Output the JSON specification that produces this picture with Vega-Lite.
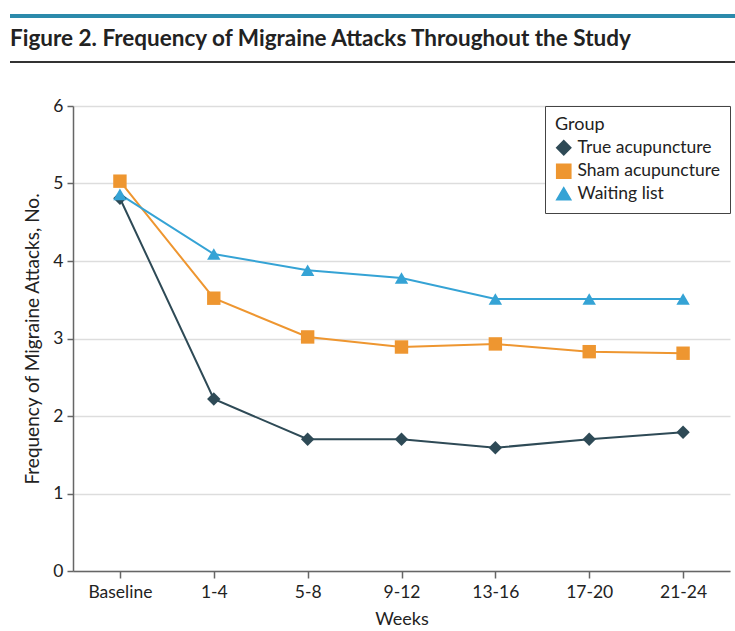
{
  "$schema": "https://vega.github.io/schema/vega-lite/v6.json",
  "background": "white",
  "padding": {"left": 10, "top": 14, "right": 0, "bottom": 0},
  "columns": 1,
  "spacing": 34,
  "resolve": {"scale": {"color": "independent", "shape": "independent"}},
  "config": {
    "font": "Lato",
    "view": {"stroke": null},
    "axis": {
      "domainColor": "#666666",
      "tickColor": "#666666",
      "domainWidth": 1.5,
      "tickWidth": 1.5,
      "labelColor": "#222222",
      "titleColor": "#222222",
      "labelFontSize": 17.5,
      "titleFontSize": 18,
      "titleFontWeight": "normal",
      "gridColor": "#dddddd",
      "gridWidth": 1.5
    },
    "legend": {
      "titleFontSize": 18,
      "labelFontSize": 17.5,
      "titleFontWeight": "normal",
      "titleColor": "#222222",
      "labelColor": "#222222"
    }
  },
  "datasets": {
    "freq": [
      {"Week": "Baseline", "Group": "True acupuncture", "Freq": 4.81},
      {"Week": "1-4", "Group": "True acupuncture", "Freq": 2.22},
      {"Week": "5-8", "Group": "True acupuncture", "Freq": 1.70},
      {"Week": "9-12", "Group": "True acupuncture", "Freq": 1.70},
      {"Week": "13-16", "Group": "True acupuncture", "Freq": 1.59},
      {"Week": "17-20", "Group": "True acupuncture", "Freq": 1.70},
      {"Week": "21-24", "Group": "True acupuncture", "Freq": 1.79},
      {"Week": "Baseline", "Group": "Sham acupuncture", "Freq": 5.03},
      {"Week": "1-4", "Group": "Sham acupuncture", "Freq": 3.52},
      {"Week": "5-8", "Group": "Sham acupuncture", "Freq": 3.02},
      {"Week": "9-12", "Group": "Sham acupuncture", "Freq": 2.89},
      {"Week": "13-16", "Group": "Sham acupuncture", "Freq": 2.93},
      {"Week": "17-20", "Group": "Sham acupuncture", "Freq": 2.83},
      {"Week": "21-24", "Group": "Sham acupuncture", "Freq": 2.81},
      {"Week": "Baseline", "Group": "Waiting list", "Freq": 4.86},
      {"Week": "1-4", "Group": "Waiting list", "Freq": 4.09},
      {"Week": "5-8", "Group": "Waiting list", "Freq": 3.88},
      {"Week": "9-12", "Group": "Waiting list", "Freq": 3.78},
      {"Week": "13-16", "Group": "Waiting list", "Freq": 3.51},
      {"Week": "17-20", "Group": "Waiting list", "Freq": 3.51},
      {"Week": "21-24", "Group": "Waiting list", "Freq": 3.51}
    ]
  },
  "concat": [
    {
      "columns": 1,
      "spacing": 9,
      "concat": [
        {
          "width": 725,
          "height": 4,
          "view": {"fill": "#2b8aab", "stroke": null},
          "data": {"values": []},
          "mark": "rule",
          "encoding": {}
        },
        {
          "width": 725,
          "height": 2,
          "view": {"fill": "#333333", "stroke": null},
          "title": {
            "text": "Figure 2. Frequency of Migraine Attacks Throughout the Study",
            "anchor": "start",
            "fontSize": 22.5,
            "fontWeight": "bold",
            "color": "#222222",
            "offset": 11
          },
          "data": {"values": []},
          "mark": "rule",
          "encoding": {}
        }
      ]
    },
    {
      "spacing": 12,
      "resolve": {"scale": {"color": "independent", "shape": "independent"}},
      "hconcat": [
        {
          "width": 1,
          "height": 465,
          "data": {"values": []},
          "mark": "rule",
          "encoding": {}
        },
        {
          "width": 657,
          "height": 465,
          "data": {"name": "freq"},
          "encoding": {
            "x": {
              "field": "Week",
              "type": "ordinal",
              "sort": ["Baseline", "1-4", "5-8", "9-12", "13-16", "17-20", "21-24"],
              "scale": {"type": "point", "padding": 0.5},
              "axis": {"title": "Weeks", "labelAngle": 0, "tickSize": 7, "labelPadding": 5, "titlePadding": 10, "grid": false}
            },
            "y": {
              "field": "Freq",
              "type": "quantitative",
              "scale": {"domain": [0, 6], "nice": false},
              "axis": {"title": "Frequency of Migraine Attacks, No.", "values": [0, 1, 2, 3, 4, 5, 6], "tickSize": 6, "labelPadding": 4, "titlePadding": 10, "grid": true, "titleFontSize": 19}
            },
            "color": {
              "field": "Group",
              "type": "nominal",
              "scale": {
                "domain": ["True acupuncture", "Sham acupuncture", "Waiting list"],
                "range": ["#2e4a56", "#ee9630", "#35a3d5"]
              },
              "legend": {
                "title": "Group",
                "orient": "top-right",
                "offset": 0,
                "strokeColor": "#444444",
                "fillColor": "white",
                "padding": 10,
                "rowPadding": 2.5,
                "symbolSize": 200,
                "labelOffset": 5
              }
            }
          },
          "layer": [
            {
              "mark": {"type": "line", "strokeWidth": 2}
            },
            {
              "mark": {"type": "point", "filled": true, "opacity": 1, "size": 180},
              "encoding": {
                "shape": {
                  "field": "Group",
                  "type": "nominal",
                  "scale": {
                    "domain": ["True acupuncture", "Sham acupuncture", "Waiting list"],
                    "range": ["diamond", "square", "triangle-up"]
                  },
                  "legend": {"title": "Group"}
                }
              }
            }
          ]
        }
      ]
    }
  ]
}
